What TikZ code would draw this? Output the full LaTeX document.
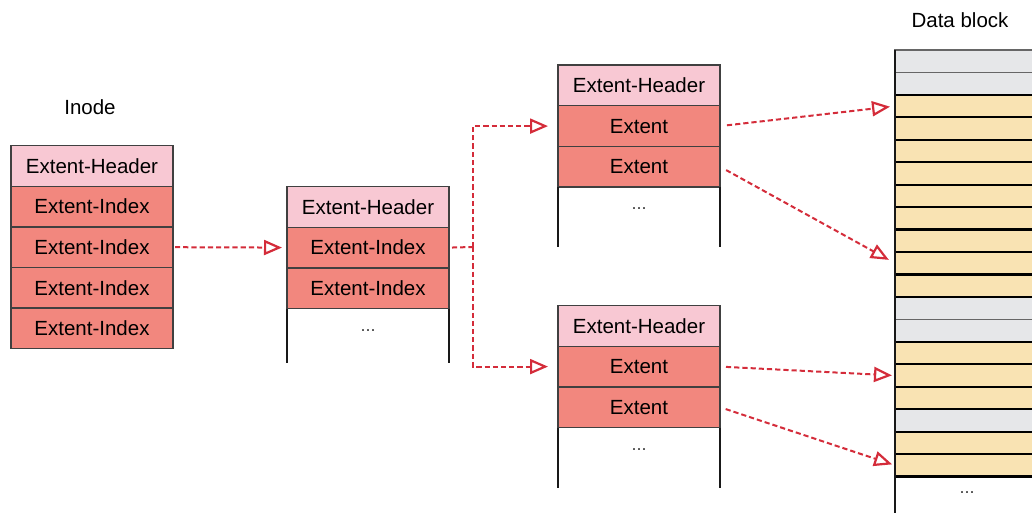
\documentclass[tikz,border=0pt]{standalone}
\usepackage{fontspec}
\setmainfont{Liberation Sans}
\usetikzlibrary{positioning,arrows.meta}
\definecolor{hdrpink}{HTML}{F8C8D3}
\definecolor{extred}{HTML}{F2877E}
\definecolor{blkyel}{HTML}{F9E3B3}
\definecolor{blkgry}{HTML}{E6E7E9}
\definecolor{linkred}{HTML}{D42C3A}
\tikzstyle{lbl}=[font=\fontsize{10.25}{12}\selectfont]
\tikzstyle{dots}=[font=\fontsize{9}{10}\selectfont,text=black!75]
\tikzstyle{cell}=[rectangle,draw=black!75,line width=0.7pt,minimum width=81pt,minimum height=20.3pt,inner sep=0pt,outer sep=0pt,lbl]
\tikzstyle{hdr}=[cell,fill=hdrpink]
\tikzstyle{ext}=[cell,fill=extred]
\tikzstyle{side}=[line width=1pt,black!90]
\tikzstyle{link}=[draw=linkred,line width=1pt,dash pattern=on 2.6pt off 1.5pt,-{Triangle[open,length=9pt,width=7.5pt,line width=1.1pt]}]
\tikzstyle{dblk}=[rectangle,draw=black!60,line width=0.6pt,fill=blkgry,minimum width=72.5pt,minimum height=11.2pt,inner sep=0pt,outer sep=0pt]
\tikzstyle{yblk}=[dblk,draw=black,line width=1.1pt,fill=blkyel]

\begin{document}
\begin{tikzpicture}[x=0.5pt,y=-0.5pt]
\useasboundingbox (0,0) rectangle (1032,513);

% inode
\node[lbl] (inode) at (90,107) {Inode};
\node[hdr] (i0) at (92,166) {Extent-Header};
\node[ext,below=0pt of i0] (i1) {Extent-Index};
\node[ext,below=0pt of i1] (i2) {Extent-Index};
\node[ext,below=0pt of i2] (i3) {Extent-Index};
\node[ext,below=0pt of i3] (i4) {Extent-Index};

% index node
\node[hdr] (m0) at (368,207) {Extent-Header};
\node[ext,below=0pt of m0] (m1) {Extent-Index};
\node[ext,below=0pt of m1] (m2) {Extent-Index};
\draw[side] (m2.south west) -- ++(0,54);
\draw[side] (m2.south east) -- ++(0,54);
\node[dots,below=7pt of m2] (mdots) {...};

% leaf nodes
\node[hdr] (t0) at (639,85.5) {Extent-Header};
\node[ext,below=0pt of t0] (t1) {Extent};
\node[ext,below=0pt of t1] (t2) {Extent};
\draw[side] (t2.south west) -- ++(0,60);
\draw[side] (t2.south east) -- ++(0,60);
\node[dots,below=7pt of t2] (tdots) {...};

\node[hdr] (b0) at (639,326) {Extent-Header};
\node[ext,below=0pt of b0] (b1) {Extent};
\node[ext,below=0pt of b1] (b2) {Extent};
\draw[side] (b2.south west) -- ++(0,60);
\draw[side] (b2.south east) -- ++(0,60);
\node[dots,below=7pt of b2] (bdots) {...};

% data blocks
\node[lbl] (dlabel) at (960,20) {Data block};
\foreach \i in {1,2,12,13,17}
  \node[dblk] (d\i) at (967.5,{50+22.45*(\i-0.5)}) {};
\foreach \i in {3,4,5,6,7,8,9,10,11,14,15,16,18,19}
  \node[yblk] (d\i) at (967.5,{50+22.45*(\i-0.5)}) {};
\coordinate (dbot) at (895,513);
\draw[side] (d1.north west) -- (dbot);
\node[dots] (ddots) at (967,493) {...};

% links
\coordinate (fork) at (473,247);
\draw[link,shorten <=1pt,shorten >=2.5pt] (i2.east) -- (m1.west);
\draw[link,-,shorten <=1.5pt] (m1.east) -- (fork);
\draw[link,shorten >=5pt] (fork) |- (t1.west);
\draw[link,shorten >=5pt] (fork) |- (b1.west);
\draw[link,shorten <=3.5pt,shorten >=2.5pt] (t1.east) -- (d3.west);
\draw[link,shorten <=3.5pt,shorten >=3.5pt] (t2.east) -- (d10.west);
\draw[link,shorten <=3pt,shorten >=1.5pt] (b1.east) -- (d15.west);
\draw[link,shorten <=3pt,shorten >=1.5pt] (b2.east) -- (d19.west);
\end{tikzpicture}
\end{document}
